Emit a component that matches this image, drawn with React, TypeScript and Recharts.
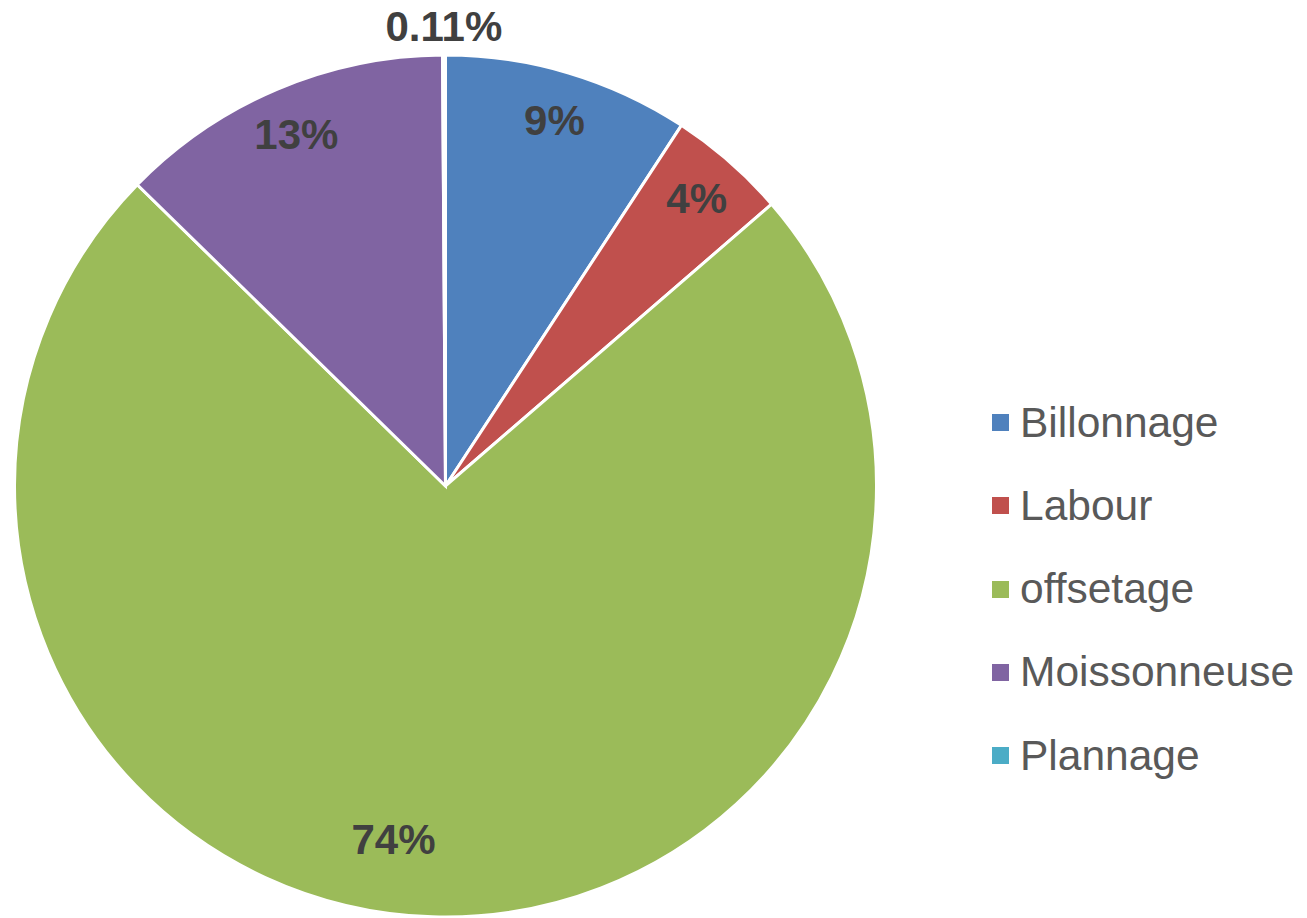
import { PieChart, Pie, Cell, Legend } from 'recharts'

document.body.style.margin = '0'

const categories = ['Billonnage', 'Labour', 'offsetage', 'Moissonneuse', 'Plannage']
const shares = [9.22, 4.44, 73.66, 12.57, 0.11]
const colors = ['#4F81BD', '#C0504D', '#9BBB59', '#8064A2', '#4BACC6']

const data = categories.map((name, i) => ({ name, value: shares[i] }))

const RAD = Math.PI / 180

function renderLabel(props: any) {
  const { cx, cy, midAngle, outerRadius, percent, name } = props
  let r = outerRadius * 0.885
  let a = midAngle
  if (percent < 0.01) r = outerRadius + 29
  // excel "best fit" pushes the big slice label a bit off its middle
  if (name === 'offsetage') {
    r = outerRadius * 0.83
    a = midAngle - 6.6
  }
  const x = cx + r * Math.cos(-a * RAD)
  const y = cy + r * Math.sin(-a * RAD)
  const pct = percent * 100
  const text = pct < 1 ? `${pct.toFixed(2)}%` : `${Math.round(pct)}%`
  return (
    <text
      x={x}
      y={y}
      textAnchor="middle"
      dominantBaseline="central"
      fill="#404040"
      fontSize={42}
      fontWeight="bold"
      fontFamily="'Liberation Sans', Arial, sans-serif"
    >
      {text}
    </text>
  )
}

function LegendList({ payload }: any) {
  const items = [...(payload || [])].sort(
    (a: any, b: any) => categories.indexOf(a.value) - categories.indexOf(b.value)
  )
  return (
    <div>
      {items.map((p: any) => (
        <div
          key={p.value}
          style={{ height: 83.25, display: 'flex', alignItems: 'center' }}
        >
          <span style={{ width: 17, height: 17, background: p.color, display: 'inline-block' }} />
          <span
            style={{
              marginLeft: 11,
              fontSize: 42.5,
              color: '#595959',
              fontFamily: "'Liberation Sans', Arial, sans-serif",
            }}
          >
            {p.value}
          </span>
        </div>
      ))}
    </div>
  )
}

export default function App() {
  return (
    <div style={{ width: 1307, height: 918, background: '#fff' }}>
      <PieChart width={1307} height={918} margin={{ top: 0, right: 0, bottom: 0, left: 0 }}>
        <Pie
          data={data}
          dataKey="value"
          nameKey="name"
          cx={445.5}
          cy={486}
          outerRadius={431}
          startAngle={90}
          endAngle={-270}
          stroke="#fff"
          strokeWidth={3}
          label={renderLabel}
          labelLine={false}
          isAnimationActive={false}
        >
          {data.map((d, i) => (
            <Cell key={d.name} fill={colors[i]} />
          ))}
        </Pie>
        <Legend
          content={<LegendList />}
          wrapperStyle={{ left: 992, top: 381, width: 315 }}
        />
      </PieChart>
    </div>
  )
}
